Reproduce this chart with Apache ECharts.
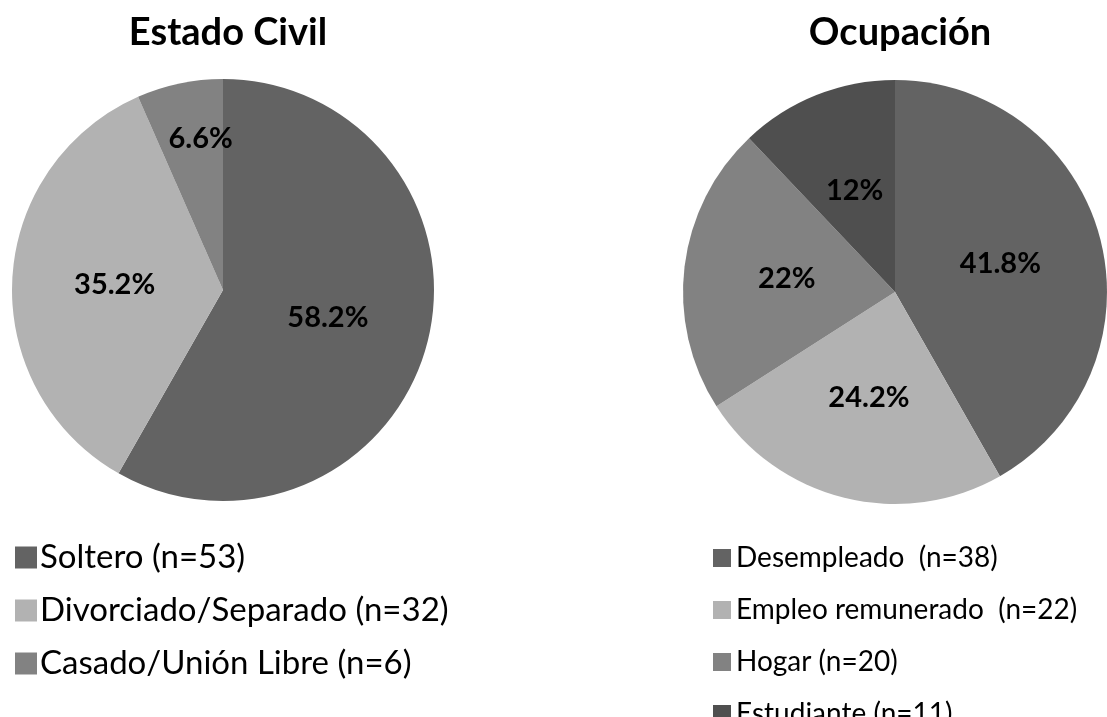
<!DOCTYPE html>
<html>
<head>
<meta charset="utf-8">
<script src="https://cdn.jsdelivr.net/npm/echarts@6/dist/echarts.min.js"></script>
<style>
  html, body { margin: 0; padding: 0; background: #fff; }
  #main { width: 1107px; height: 717px; }
</style>
</head>
<body>
<div id="main"></div>
<script>
// datos - estado civil
var civilNames = ['Soltero (n=53)', 'Divorciado/Separado (n=32)', 'Casado/Unión Libre (n=6)'];
var civilValues = [53, 32, 6];
var civilLabels = ['58.2%', '35.2%', '6.6%'];

// datos - ocupacion
var ocupNames = ['Desempleado  (n=38)', 'Empleo remunerado  (n=22)', 'Hogar (n=20)', 'Estudiante (n=11)'];
var ocupValues = [38, 22, 20, 11];
var ocupLabels = ['41.8%', '24.2%', '22%', '12%'];

var civilColors = ['#636363', '#b2b2b2', '#828282'];
var ocupColors = ['#636363', '#b2b2b2', '#828282', '#4f4f4f'];

var chart = echarts.init(document.getElementById('main'));
var font = 'Lato';

function buildData(names, values, labels, colors, offsets) {
    var d = [];
    for (var i = 0; i < names.length; i++) {
        var item = {
            name: names[i],
            value: values[i],
            txt: labels[i],
            itemStyle: { color: colors[i] }
        };
        if (offsets && offsets[i]) {
            item.label = { offset: offsets[i] };
        }
        d.push(item);
    }
    return d;
}

var labelStyle = {
    show: true,
    position: 'inside',
    fontFamily: font,
    fontWeight: 'bold',
    fontSize: 29,
    color: '#000',
    formatter: function (p) { return p.data.txt; }
};

var option = {
    backgroundColor: '#fff',
    animation: false,
    title: [
        {
            text: 'Estado Civil',
            left: 223, top: 9, textAlign: 'center',
            textStyle: { fontFamily: font, fontWeight: 'bold', fontSize: 38, color: '#000' }
        },
        {
            text: 'Ocupación',
            left: 895, top: 9, textAlign: 'center',
            textStyle: { fontFamily: font, fontWeight: 'bold', fontSize: 38, color: '#000' }
        }
    ],
    legend: [
        {
            orient: 'vertical',
            left: 10, top: 536, height: 200,
            itemWidth: 22, itemHeight: 22, itemGap: 20,
            icon: 'rect',
            data: civilNames,
            textStyle: { fontFamily: font, fontSize: 33, color: '#000', padding: [0, 0, 0, -2] }
        },
        {
            orient: 'vertical',
            left: 708, top: 539, height: 250,
            itemWidth: 18, itemHeight: 18, itemGap: 24,
            icon: 'rect',
            data: ocupNames,
            textStyle: { fontFamily: font, fontSize: 28, color: '#000' }
        }
    ],
    series: [
        {
            name: 'Estado Civil',
            type: 'pie',
            center: [223, 290],
            radius: 211,
            startAngle: 90,
            clockwise: true,
            silent: true,
            itemStyle: { borderWidth: 0 },
            label: labelStyle,
            labelLine: { show: false },
            data: buildData(civilNames, civilValues, civilLabels, civilColors, [null, null, [0, -45]])
        },
        {
            name: 'Ocupación',
            type: 'pie',
            center: [895, 292],
            radius: 212,
            startAngle: 90,
            clockwise: true,
            silent: true,
            itemStyle: { borderWidth: 0 },
            label: labelStyle,
            labelLine: { show: false },
            data: buildData(ocupNames, ocupValues, ocupLabels, ocupColors)
        }
    ]
};

chart.setOption(option);
window.addEventListener('resize', function () {
    chart.resize();
});
</script>
</body>
</html>
